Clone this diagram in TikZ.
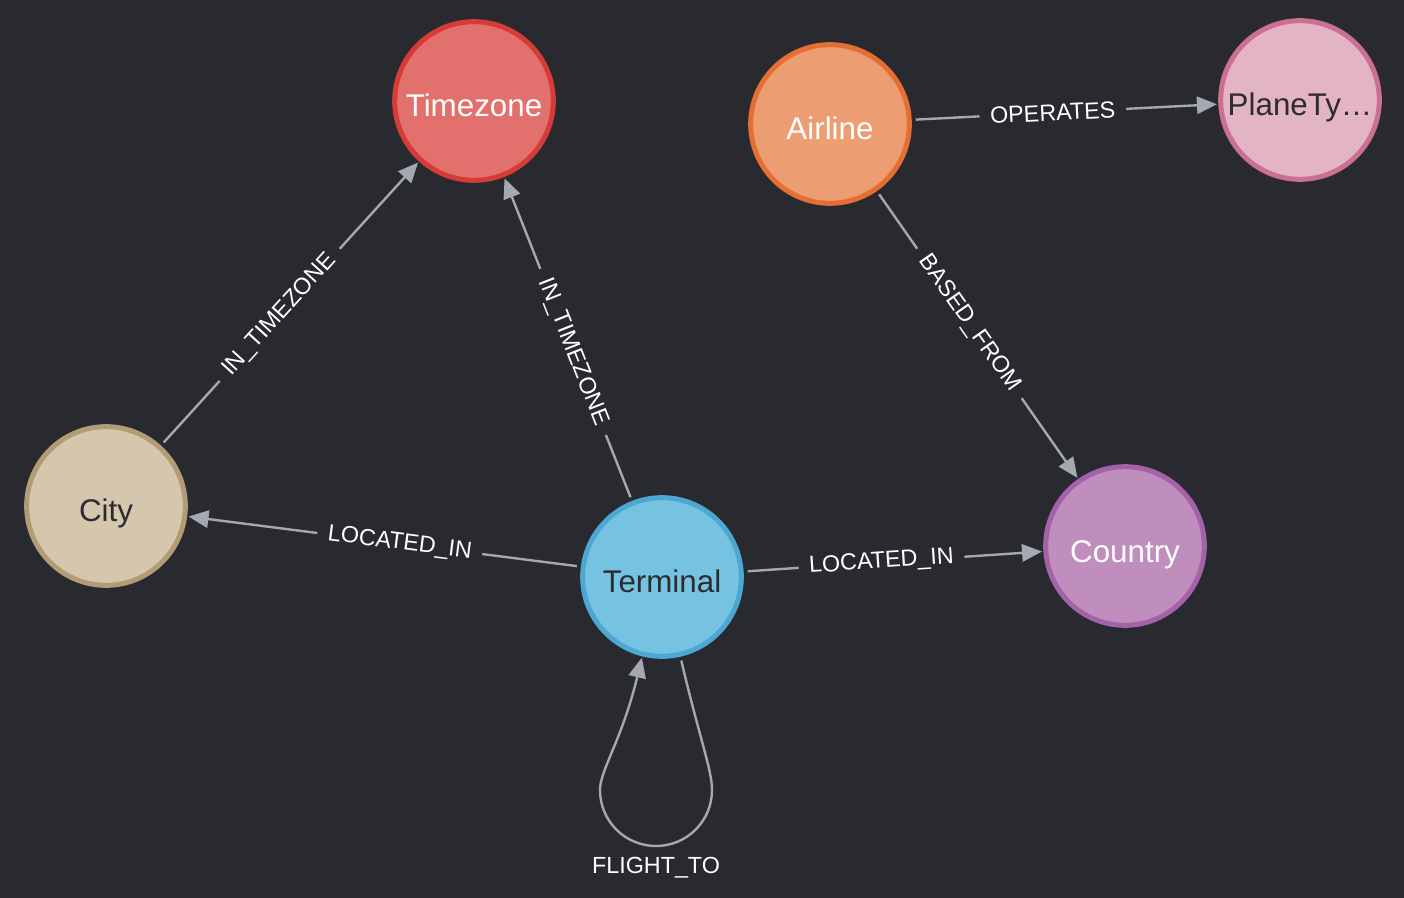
\documentclass[tikz,border=0pt]{standalone}
\usepackage{fontspec}
\setmainfont{Liberation Sans}
\usetikzlibrary{arrows.meta, positioning}
\definecolor{canvas}{RGB}{41,42,48}
\definecolor{edgegrey}{RGB}{165,168,176}
\definecolor{darktext}{RGB}{43,43,48}
\definecolor{tzfill}{RGB}{226,112,108}
\definecolor{tzline}{RGB}{214,60,55}
\definecolor{alfill}{RGB}{236,157,113}
\definecolor{alline}{RGB}{228,110,52}
\definecolor{ptfill}{RGB}{227,180,196}
\definecolor{ptline}{RGB}{204,112,146}
\definecolor{cityfill}{RGB}{212,199,174}
\definecolor{cityline}{RGB}{178,156,118}
\definecolor{termfill}{RGB}{118,194,225}
\definecolor{termline}{RGB}{76,168,210}
\definecolor{ctryfill}{RGB}{192,142,189}
\definecolor{ctryline}{RGB}{164,98,168}
\tikzset{
x=0.75pt, y=-0.75pt, % one unit is one pixel of the reference
every node/.style={font=\fontsize{23.5}{28}\selectfont}, % text inside the circles
entity/.style={circle, line width=3.75pt, minimum size=119pt, inner sep=0pt, text height=24pt, text depth=0pt}, % sets the look of each label node
rel/.style={-{Triangle[length=15pt,width=13pt]}, line width=1.8pt, draw=edgegrey, shorten <=3pt, shorten >=1pt}, % relationship arrows
rellabel/.style={sloped, pos=0.46, fill=canvas, text=white, inner xsep=8pt, inner ysep=1pt, font=\fontsize{17.5}{20}\selectfont}, % text cut into the arrows
}
\begin{document}
\begin{tikzpicture}

            \fill[canvas] (0,0) rectangle (1404,898);
            \useasboundingbox (0,0) rectangle (1404,898);

            \node[entity, fill=tzfill, draw=tzline, text=white] (timezone) at (474,101) {Timezone};
            \node[entity, fill=alfill, draw=alline, text=white] (airline) at (830,124) {Airline};
            \node[entity, fill=ptfill, draw=ptline, text=darktext] (planetype) at (1300,100) {PlaneTy…};
            \node[entity, fill=cityfill, draw=cityline, text=darktext] (city) at (106,506) {City};
            \node[entity, fill=termfill, draw=termline, text=darktext] (terminal) at (662,577) {Terminal};
            \node[entity, fill=ctryfill, draw=ctryline, text=white] (country) at (1125,546) {Country};

            \draw[rel] (city) -- node[rellabel] {IN\_TIMEZONE} (timezone);
            \draw[rel] (terminal) -- node[rellabel] {IN\_TIMEZONE} (timezone);
            \draw[rel] (terminal) -- node[rellabel] {LOCATED\_IN} (city);
            \draw[rel] (terminal) -- node[rellabel] {LOCATED\_IN} (country);
            \draw[rel] (airline) -- node[rellabel] {BASED\_FROM} (country);
            \draw[rel] (airline) -- node[rellabel] {OPERATES} (planetype);

            \draw[rel] (terminal.-77) .. controls (700,740) and (712,770) .. (712,790)
                    .. controls (712,821) and (687,846) .. (656,846)
                    node[below=4pt, text=white, font=\fontsize{17.5}{20}\selectfont] (flightto) {FLIGHT\_TO}
                    .. controls (625,846) and (600,821) .. (600,790)
                    .. controls (600,770) and (622,740) .. (terminal.-104)
                    ;
        \end{tikzpicture}
\end{document}
